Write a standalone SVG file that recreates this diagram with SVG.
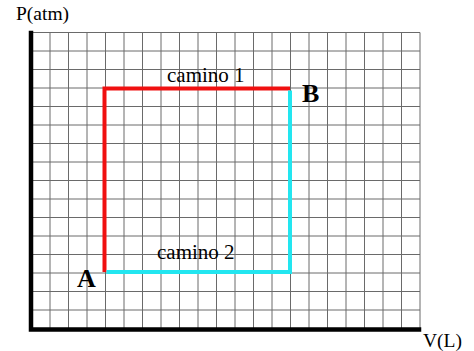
<svg xmlns="http://www.w3.org/2000/svg" width="474" height="351" viewBox="0 0 474 351">
<style>
.grid{stroke:#6a6a6a;stroke-width:1;fill:none}
.axis{stroke:#000;stroke-width:4.5;fill:none;stroke-linecap:square}
.lbl{font-family:"Liberation Serif","Times New Roman",serif;font-size:19.5px;fill:#000}
.cam{font-family:"Liberation Serif","Times New Roman",serif;font-size:21px;fill:#000}
.pt{font-family:"Liberation Serif","Times New Roman",serif;font-size:26px;font-weight:bold;fill:#000}
.red{stroke:#f01010;stroke-width:4;fill:none}
.cyan{stroke:#22e6f0;stroke-width:4;fill:none}
</style>
<rect width="474" height="351" fill="#fff"/>
<g id="grid">
<path class="grid" d="M50,32.5V328.5M68.5,32.5V328.5M87,32.5V328.5M105.5,32.5V328.5M124,32.5V328.5M142.5,32.5V328.5M161,32.5V328.5M179.5,32.5V328.5M198,32.5V328.5M216.5,32.5V328.5M235,32.5V328.5M253.5,32.5V328.5M272,32.5V328.5M290.5,32.5V328.5M309,32.5V328.5M327.5,32.5V328.5M346,32.5V328.5M364.5,32.5V328.5M383,32.5V328.5M401.5,32.5V328.5M420,32.5V328.5"/>
<path class="grid" d="M31.5,32.5H420M31.5,51H420M31.5,69.5H420M31.5,88H420M31.5,106.5H420M31.5,125H420M31.5,143.5H420M31.5,162H420M31.5,180.5H420M31.5,199H420M31.5,217.5H420M31.5,236H420M31.5,254.5H420M31.5,273H420M31.5,291.5H420M31.5,310H420"/>
</g>
<g id="axes">
<path class="axis" d="M31,33V329.5H419"/>
</g>
<g id="connectors">
<path id="camino1" class="red" d="M104.5,272V88.5H290"/>
<path id="camino2" class="cyan" d="M106.5,272H290V90.5"/>
</g>
<g id="labels">
<text class="lbl" x="16" y="20">P(atm)</text>
<text class="lbl" x="423" y="347">V(L)</text>
<text class="cam" x="167" y="82">camino 1</text>
<text class="cam" x="157" y="259">camino 2</text>
</g>
<g id="A"><text class="pt" x="77" y="287">A</text></g>
<g id="B"><text class="pt" x="302" y="102">B</text></g>
</svg>
